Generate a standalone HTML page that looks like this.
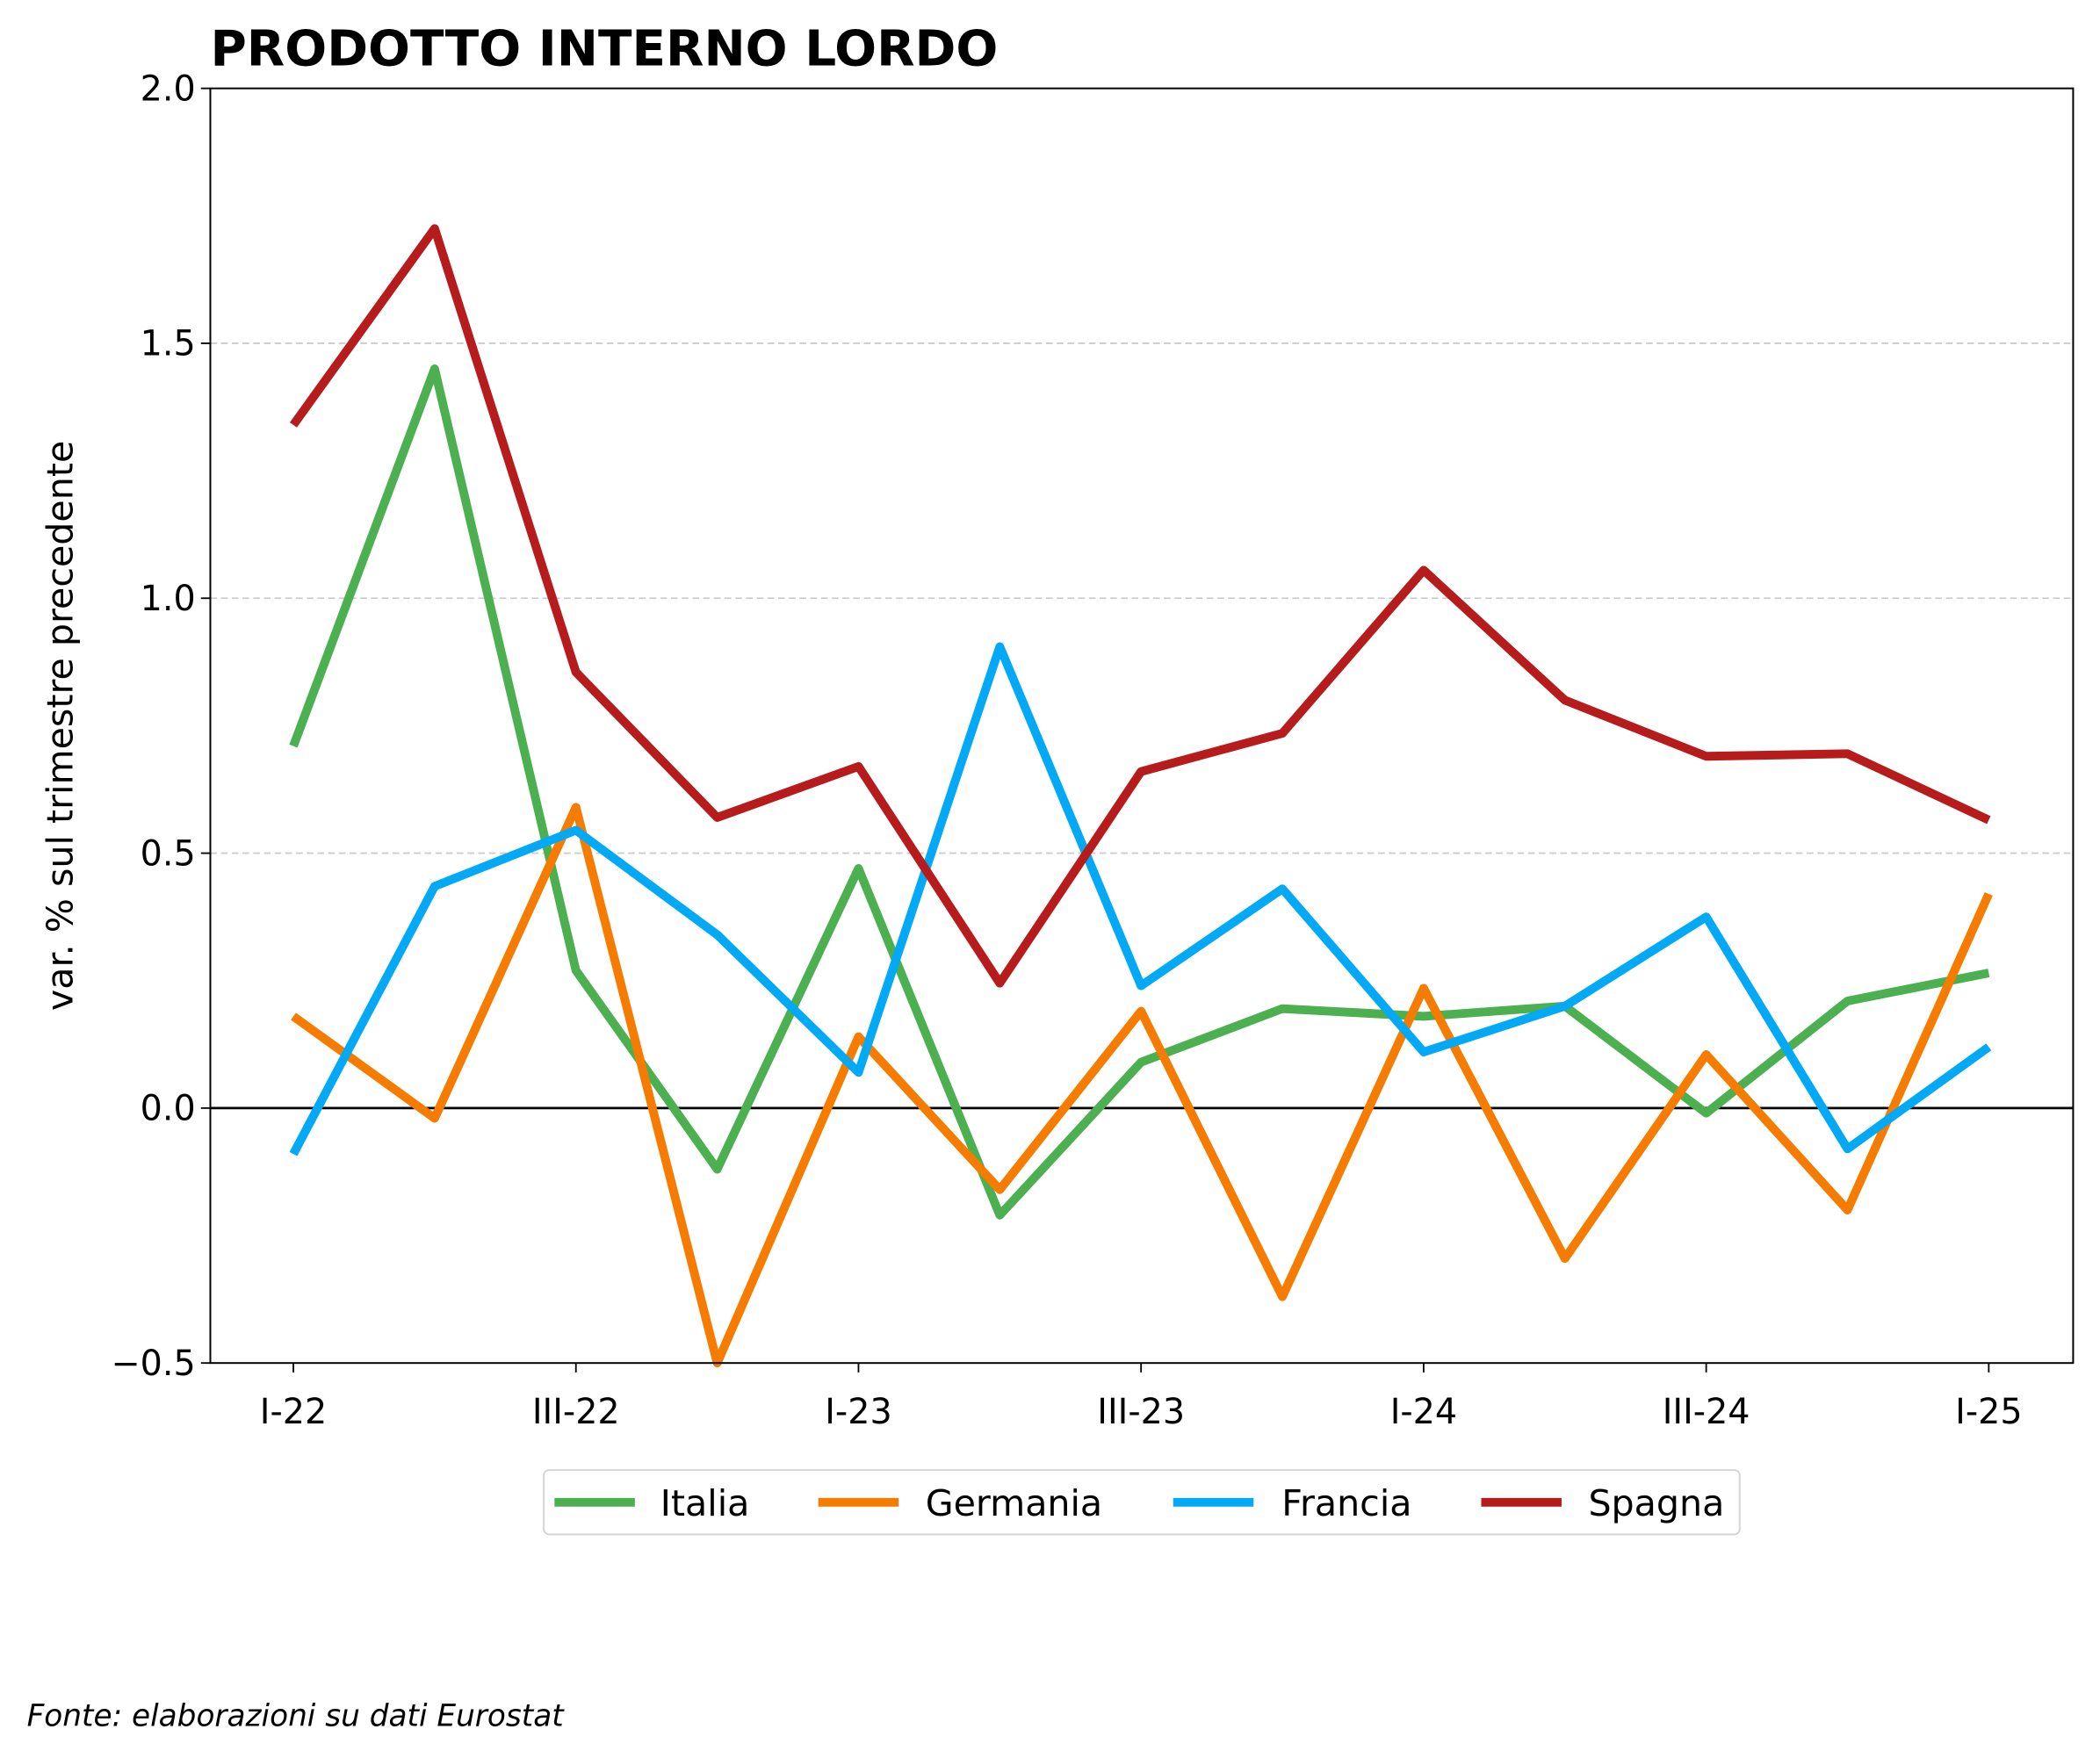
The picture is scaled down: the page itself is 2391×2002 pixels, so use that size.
<!DOCTYPE html>
<html><head><meta charset="utf-8"><style>html,body{margin:0;padding:0;background:#fff}svg{display:block}text{font-family:"DejaVu Sans","Liberation Sans",sans-serif}</style></head>
<body>
<svg id="chart" width="2391" height="2002" viewBox="0 0 1568 1313" xmlns="http://www.w3.org/2000/svg">
<rect width="1568" height="1313" fill="#fff"/>
<text x="157" y="49" font-size="37" font-weight="bold">PRODOTTO INTERNO LORDO</text>
<g id="grid"></g>
<g id="series"></g>
<rect x="157" y="66" width="1391" height="952" fill="none" stroke="#000" stroke-width="1.3"/>
<g id="axes"></g>
<text transform="translate(54,542) rotate(-90)" text-anchor="middle" font-size="27">var. % sul trimestre precedente</text>
<g>
<rect x="406" y="1098" width="893" height="48" rx="4" fill="#fff" stroke="#d5d5d5" stroke-width="1.3"/>
<line x1="414" y1="1122" x2="474" y2="1122" stroke="#4caf50" stroke-width="6.5"/>
<text x="493" y="1132" font-size="27">Italia</text>
<line x1="611" y1="1122" x2="671" y2="1122" stroke="#f57c00" stroke-width="6.5"/>
<text x="691" y="1132" font-size="27">Germania</text>
<line x1="876" y1="1122" x2="936" y2="1122" stroke="#03a9f4" stroke-width="6.5"/>
<text x="957" y="1132" font-size="27">Francia</text>
<line x1="1106" y1="1122" x2="1166" y2="1122" stroke="#b71c1c" stroke-width="6.5"/>
<text x="1186" y="1132" font-size="27">Spagna</text>
</g>
<text x="20" y="1289" font-size="22.5" font-style="italic">Fonte: elaborazioni  su dati Eurostat</text>
</svg>
<script>
const categories = ["I-22","II-22","III-22","IV-22","I-23","II-23","III-23","IV-23","I-24","II-24","III-24","IV-24","I-25"];
const italia = [0.71,1.45,0.27,-0.12,0.47,-0.21,0.09,0.195,0.18,0.20,-0.01,0.21,0.265];
const germania = [0.18,-0.02,0.59,-0.50,0.14,-0.16,0.19,-0.37,0.235,-0.295,0.105,-0.20,0.42];
const francia = [-0.09,0.435,0.545,0.34,0.07,0.905,0.24,0.43,0.11,0.20,0.375,-0.08,0.12];
const spagna = [1.34,1.725,0.855,0.57,0.67,0.245,0.66,0.735,1.055,0.80,0.69,0.695,0.565];
const yTicks = [-0.5,0.0,0.5,1.0,1.5,2.0];
const yTickLabels = ["\u22120.5","0.0","0.5","1.0","1.5","2.0"];
const xTickIdx = [0,2,4,6,8,10,12];

const NS="http://www.w3.org/2000/svg";
const L=157,R=1548,T=66,B=1018;
const yMin=-0.5,yMax=2.0;
const x0=219,x1=1485;
function xs(i){return x0+(x1-x0)*i/(categories.length-1);}
function ys(v){return B-(v-yMin)/(yMax-yMin)*(B-T);}
function mk(tag,attrs,parent){const e=document.createElementNS(NS,tag);for(const k in attrs)e.setAttribute(k,attrs[k]);parent.appendChild(e);return e;}
const grid=document.getElementById('grid'),axes=document.getElementById('axes'),ser=document.getElementById('series');
yTicks.forEach((v,i)=>{
  const y=ys(v);
  if(v>0&&v<yMax){const g=mk('line',{x1:L,x2:R,y1:y,y2:y,stroke:'#cccccc','stroke-width':1.2,'stroke-dasharray':'5,3'},grid);
    
    }
  const t=mk('line',{x1:L-7,x2:L,y1:y,y2:y,stroke:'#000','stroke-width':1.2},axes);
  
  
  const tx=mk('text',{x:L-11,y:y+9,'text-anchor':'end','font-size':26},axes);
  tx.textContent=yTickLabels[i];
  
  
});
xTickIdx.forEach(i=>{
  const x=xs(i);
  const t=mk('line',{x1:x,x2:x,y1:B,y2:B+7,stroke:'#000','stroke-width':1.2},axes);
  
  
  const tx=mk('text',{x:x,y:B+45,'text-anchor':'middle','font-size':26},axes);
  tx.textContent=categories[i];
  
  
});
const zl=mk('line',{x1:L,x2:R,y1:ys(0),y2:ys(0),stroke:'#000','stroke-width':1.8},ser);


[[italia,'#4caf50','line-italia'],[germania,'#f57c00','line-germania'],[francia,'#03a9f4','line-francia'],[spagna,'#b71c1c','line-spagna']].forEach(([d,c,n])=>{
  const p=mk('polyline',{points:d.map((v,i)=>xs(i)+','+ys(v)).join(' '),fill:'none',stroke:c,'stroke-width':6.5,'stroke-linejoin':'round'},ser);
  
  
});
</script>
</body></html>
